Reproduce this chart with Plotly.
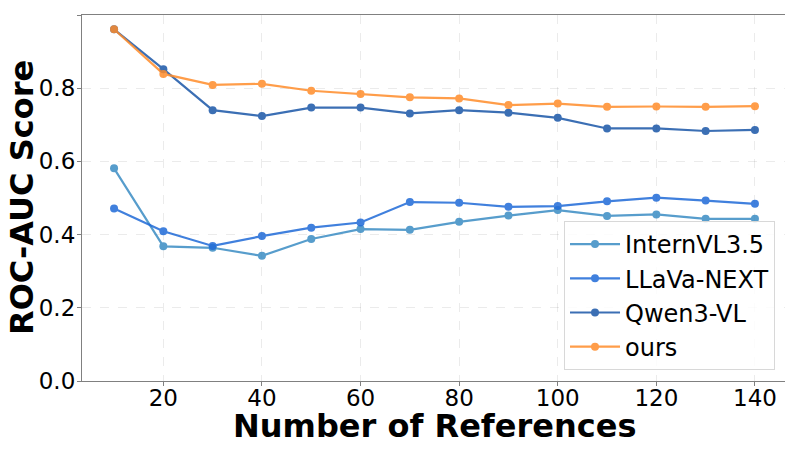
import plotly.graph_objects as go

refs = [10, 20, 30, 40, 50, 60, 70, 80, 90, 100, 110, 120, 130, 140]
internvl = [0.581, 0.368, 0.364, 0.342, 0.388, 0.415, 0.413, 0.435, 0.452, 0.467, 0.451, 0.455, 0.443, 0.443]
llava = [0.471, 0.409, 0.369, 0.396, 0.419, 0.433, 0.489, 0.487, 0.476, 0.478, 0.491, 0.501, 0.493, 0.484]
qwen = [0.961, 0.852, 0.740, 0.724, 0.747, 0.747, 0.731, 0.740, 0.733, 0.719, 0.690, 0.690, 0.683, 0.686]
ours = [0.961, 0.839, 0.809, 0.812, 0.793, 0.784, 0.775, 0.772, 0.754, 0.758, 0.749, 0.750, 0.749, 0.751]

names = ["InternVL3.5", "LLaVa-NEXT", "Qwen3-VL", "ours"]
series = [internvl, llava, qwen, ours]
colors = ["#3a8cc4", "#1f6ad8", "#1a56a8", "#ff8c2a"]

fig = go.Figure()
for n, s, c in zip(names, series, colors):
    fig.add_trace(go.Scatter(
        x=refs, y=s, name=n, mode="lines+markers",
        line=dict(color=c, width=2.2),
        marker=dict(color=c, size=8),
        opacity=0.85,
    ))

axis_common = dict(
    showline=True, linecolor="#808080", linewidth=1.2, mirror=True,
    showgrid=True, gridcolor="rgba(0,0,0,0.08)", griddash="dash", gridwidth=1,
    ticks="outside", ticklen=4, tickcolor="#808080",
    tickfont=dict(family="DejaVu Sans", size=23, color="black"),
    zeroline=False, automargin=False,
)

fig.update_layout(
    width=785, height=441,
    margin=dict(l=74, r=6, t=7, b=68),
    plot_bgcolor="white", paper_bgcolor="white",
    font=dict(family="DejaVu Sans", color="black"),
    xaxis=dict(range=[3.5, 146.5], tickvals=[20, 40, 60, 80, 100, 120, 140],
               ticklabelstandoff=-8, **axis_common),
    yaxis=dict(range=[0, 1.0], tickvals=[0, 0.2, 0.4, 0.6, 0.8, 1.0], tickformat=".1f",
               ticklabelstandoff=-3, **axis_common),
    legend=dict(
        x=0.983, y=0.03, xanchor="right", yanchor="bottom",
        bgcolor="rgba(255,255,255,0.85)", bordercolor="#d8d8d8", borderwidth=1,
        font=dict(size=24, family="DejaVu Sans", color="black"),
        itemwidth=50, tracegroupgap=2,
    ),
    showlegend=True,
    annotations=[
        dict(text="<b>Number of References</b>", xref="paper", yref="paper",
             x=0.5, y=0, xanchor="center", yanchor="middle", yshift=-45,
             showarrow=False, font=dict(size=32, family="DejaVu Sans", color="black")),
        dict(text="<b>ROC-AUC Score</b>", xref="paper", yref="paper",
             x=0, y=0.5, xanchor="center", yanchor="middle", xshift=-60, textangle=-90,
             showarrow=False, font=dict(size=32, family="DejaVu Sans", color="black")),
    ],
)

fig.write_html("out.html")
